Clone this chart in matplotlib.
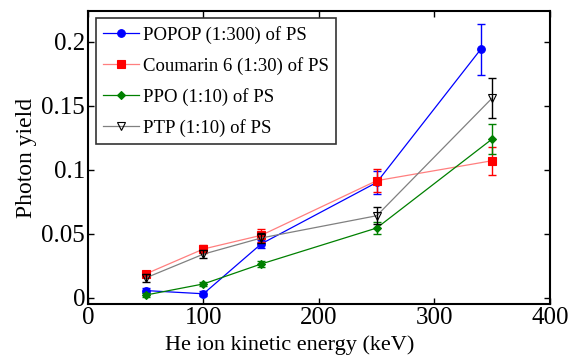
import matplotlib
matplotlib.use("Agg")
import matplotlib.pyplot as plt

plt.rcParams['font.family'] = ['Liberation Serif', 'DejaVu Serif']
plt.rcParams['mathtext.fontset'] = 'stix'

labels = ["POPOP (1:300) of PS", "Coumarin 6 (1:30) of PS", "PPO (1:10) of PS", "PTP (1:10) of PS"]
x_popop = [50, 100, 150, 250, 340]
y_popop = [0.0055, 0.003, 0.042, 0.090, 0.194]
e_popop = [0.002, 0.002, 0.003, 0.009, 0.020]
x_coum = [50, 100, 150, 250, 350]
y_coum = [0.0185, 0.038, 0.0487, 0.0914, 0.107]
e_coum = [0.002, 0.003, 0.005, 0.009, 0.011]
x_ppo = [50, 100, 150, 250, 350]
y_ppo = [0.002, 0.0107, 0.0263, 0.0544, 0.124]
e_ppo = [0.0015, 0.0015, 0.002, 0.005, 0.012]
x_ptp = [50, 100, 150, 250, 350]
y_ptp = [0.0154, 0.034, 0.0466, 0.064, 0.156]
e_ptp = [0.003, 0.003, 0.004, 0.0065, 0.016]

fig = plt.figure(figsize=(5.72, 3.58), dpi=100)
ax = fig.add_axes([0.1538, 0.1508, 0.8077, 0.8185])

styles = [
    (x_popop, y_popop, e_popop, '#0000ff', '#0000ff', 'o', 'blue', 5.5, 'blue'),
    (x_coum, y_coum, e_coum, '#ff7f7f', 'red', 's', 'red', 5.5, 'red'),
    (x_ppo, y_ppo, e_ppo, '#008000', 'green', 'D', 'green', 4, 'green'),
    (x_ptp, y_ptp, e_ptp, '#808080', 'black', 'v', 'none', 5.5, 'black'),
]
for (xs, ys, es, lc, ec, mk, mfc, ms, mec), lab in zip(styles, labels):
    ax.plot(xs, ys, color=lc, lw=0.9, marker=mk, markersize=ms,
            markerfacecolor=mfc, markeredgecolor=mec, markeredgewidth=0.8, label=lab)
    ax.errorbar(xs, ys, yerr=es, fmt='none', ecolor=ec, elinewidth=1.0, capsize=3, capthick=1.0)

ax.set_xlim(0, 400)
ax.set_ylim(-0.005, 0.224)
ax.set_xticks([0, 100, 200, 300, 400])
ax.set_yticks([0, 0.05, 0.1, 0.15, 0.2])
ax.set_yticklabels(['0', '0.05', '0.1', '0.15', '0.2'])
ax.tick_params(direction='in', top=True, right=True, labelsize=18, length=4, width=1, pad=2)
for s in ax.spines.values():
    s.set_linewidth(1.5)
ax.set_xlabel('He ion kinetic energy (keV)', fontsize=16, labelpad=0)
ax.xaxis.set_label_coords(0.437, -0.105)
ax.set_ylabel('Photon yield', fontsize=17, labelpad=3)
leg = ax.legend(loc='upper left', bbox_to_anchor=(0.017, 0.975), fontsize=13.5,
                frameon=True, fancybox=False, edgecolor='black', handlelength=1.9,
                handletextpad=0.2, borderpad=0.4, labelspacing=0.7, borderaxespad=0)
leg.get_frame().set_linewidth(1.2)

fig.savefig('out.png', dpi=100)
